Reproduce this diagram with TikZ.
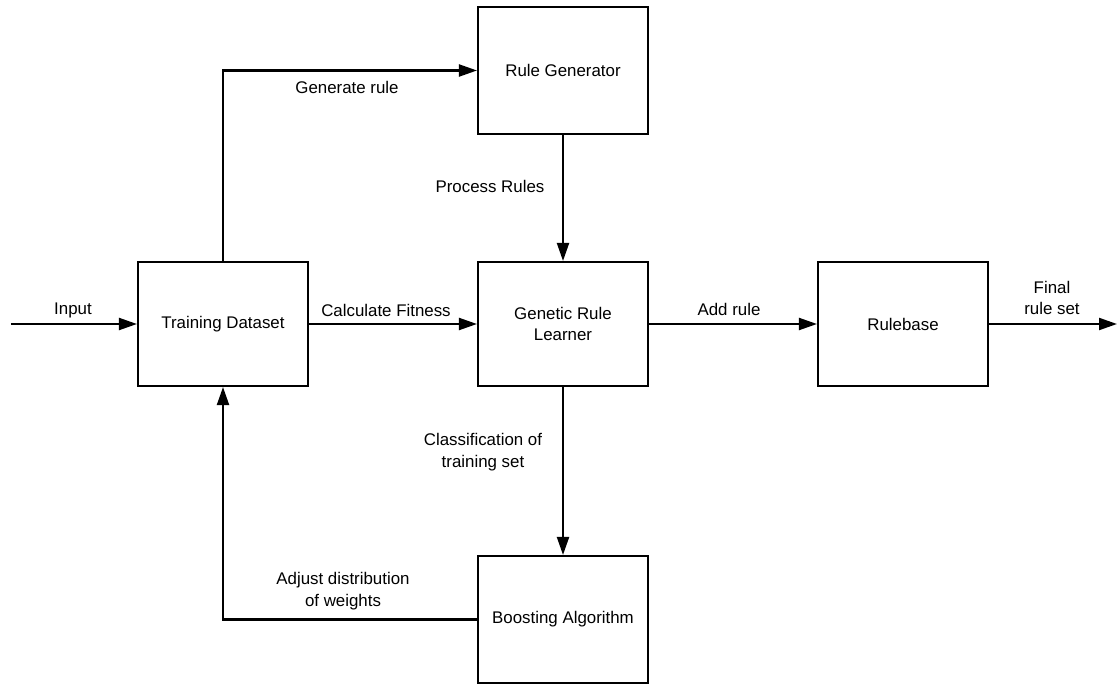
\documentclass[tikz,border=0pt]{standalone}
\usepackage{fontspec}
\setmainfont{Liberation Sans}
\usetikzlibrary{arrows.meta}

\begin{document}
\begin{tikzpicture}[
  font=\fontsize{12}{15.5}\selectfont,
  block/.style={draw, line width=1.5pt, minimum width=4.25cm, minimum height=3.15cm,
    align=center, inner sep=0pt},
  flow/.style={-{Triangle[length=4.5mm, width=3mm]}, line width=1.5pt},
  link/.style={line width=1.5pt},
  tag/.style={align=center, inner sep=1pt}
]
\useasboundingbox (0,0) rectangle (27.925,-17.1);

\node[block, minimum height=3.175cm] (rulegen) at (14.075,-1.7625) {Rule Generator};
\node[block, minimum height=3.1cm] (dataset) at (5.575,-8.1) {Training Dataset};
\node[block, minimum height=3.1cm] (learner) at (14.075,-8.1) {Genetic Rule\\Learner};
\node[block, minimum height=3.1cm] (rulebase) at (22.575,-8.1) {Rulebase};
\node[block, minimum height=3.175cm] (boosting) at (14.075,-15.4875) {Boosting Algorithm};

\coordinate (in) at (0.275,-8.1);
\coordinate (out) at (27.925,-8.1);

\node[tag] (lbl-input) at (1.825,-7.75) {Input};
\node[tag] (lbl-generate) at (8.675,-2.175) {Generate rule};
\node[tag] (lbl-process) at (12.25,-4.65) {Process Rules};
\node[tag] (lbl-fitness) at (9.65,-7.75) {Calculate Fitness};
\node[tag] (lbl-add) at (18.225,-7.725) {Add rule};
\node[tag] (lbl-final) at (26.3,-7.45) {Final\\rule set};
\node[tag] (lbl-classify) at (12.075,-11.3) {Classification of\\training set};
\node[tag] (lbl-adjust) at (8.575,-14.7875) {Adjust distribution\\of weights};

\draw[flow] (in) -- (dataset.west);
\draw[flow] (dataset.north) |- (rulegen.west);
\draw[flow] (rulegen.south) -- (learner.north);
\draw[flow] (dataset.east) -- (learner.west);
\draw[flow] (learner.east) -- (rulebase.west);
\draw[flow] (rulebase.east) -- (out);
\draw[flow] (learner.south) -- (boosting.north);
\draw[flow] (boosting.west) -| (dataset.south);

\end{tikzpicture}
\end{document}
